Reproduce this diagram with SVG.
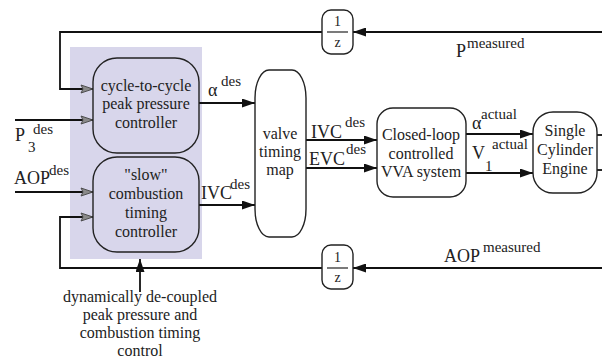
<svg xmlns="http://www.w3.org/2000/svg" width="602" height="361" viewBox="0 0 602 361" font-family="'Liberation Serif', 'DejaVu Serif', serif">
<style>
text{font-family:'Liberation Serif','DejaVu Serif',serif;fill:#222}
.bt{font-size:16px;text-anchor:middle}
.lb{font-size:18px}
.sp{font-size:15px}
.fr{font-size:14px;text-anchor:middle}
.box{fill:none;stroke:#222;stroke-width:1.4}
.ln{fill:none;stroke:#111;stroke-width:1.8}
</style>
<defs>
<marker id="arr" markerUnits="userSpaceOnUse" markerWidth="13" markerHeight="9" refX="13" refY="4.5" orient="auto">
<path d="M0,0 L13,4.5 L0,9 Z" fill="#111"/>
</marker>
<marker id="garr" markerUnits="userSpaceOnUse" markerWidth="14" markerHeight="10" refX="13" refY="5" orient="auto">
<path d="M1,1 L13,5 L1,9 L3,5 Z" fill="#8a8a8a" stroke="#444" stroke-width="0.9"/>
</marker>
</defs>
<rect id="shade" x="70" y="47" width="132" height="212" fill="#d8d6eb"/>
<g id="connectors">
<path class="ln" d="M602,32 L353,32" marker-end="url(#arr)"/>
<path class="ln" d="M322,32 L60,32 L60,89 L93,89" marker-end="url(#garr)"/>
<path class="ln" d="M15,120 L93,120" marker-end="url(#garr)"/>
<path class="ln" d="M15,192 L93,192" marker-end="url(#garr)"/>
<path class="ln" d="M602,268 L353,268" marker-end="url(#arr)"/>
<path class="ln" d="M322,268 L60,268 L60,217 L93,217" marker-end="url(#garr)"/>
<path class="ln" d="M199,103 L255,103" marker-end="url(#arr)"/>
<path class="ln" d="M199,205 L255,205" marker-end="url(#arr)"/>
<path class="ln" d="M306,140 L377,140" marker-end="url(#arr)"/>
<path class="ln" d="M306,168 L377,168" marker-end="url(#arr)"/>
<path class="ln" d="M466,134 L533,134" marker-end="url(#arr)"/>
<path class="ln" d="M466,173 L533,173" marker-end="url(#arr)"/>
<path class="ln" d="M597,135 L602,135"/>
<path class="ln" d="M597,170 L602,170"/>
<path class="ln" d="M140,292 L140,259" marker-end="url(#arr)"/>
</g>
<g id="labels">
<text class="lb" x="15" y="141">P</text><text class="sp" x="28" y="152">3</text><text class="sp" x="33" y="134">des</text>
<text class="lb" x="14" y="184">AOP</text><text class="sp" x="49" y="175">des</text>
<text class="lb" x="208" y="96">α</text><text class="sp" x="221" y="86">des</text>
<text class="lb" x="201" y="199">IVC</text><text class="sp" x="230" y="189">des</text>
<text class="lb" x="311" y="138">IVC</text><text class="sp" x="345" y="127">des</text>
<text class="lb" x="309" y="165">EVC</text><text class="sp" x="346" y="154">des</text>
<text class="lb" x="472" y="129">α</text><text class="sp" x="481" y="119">actual</text>
<text class="lb" x="472" y="159">V</text><text class="sp" x="485" y="171">1</text><text class="sp" x="492" y="149">actual</text>
<text class="lb" x="456" y="57">P</text><text class="sp" x="467" y="48">measured</text>
<text class="lb" x="444" y="262">AOP</text><text class="sp" x="483" y="252">measured</text>
<text class="bt" x="140" y="302">dynamically de-coupled</text>
<text class="bt" x="140" y="320">peak pressure and</text>
<text class="bt" x="140" y="338">combustion timing</text>
<text class="bt" x="140" y="356">control</text>
</g>
<g id="ctrl1">
<rect class="box" x="93" y="58" width="106" height="95" rx="24" ry="24"/>
<text class="bt" x="146" y="91">cycle-to-cycle</text>
<text class="bt" x="146" y="109">peak pressure</text>
<text class="bt" x="146" y="128">controller</text>
</g>
<g id="ctrl2">
<rect class="box" x="93" y="157" width="106" height="95" rx="24" ry="24"/>
<text class="bt" x="146" y="180">"slow"</text>
<text class="bt" x="146" y="199">combustion</text>
<text class="bt" x="146" y="218">timing</text>
<text class="bt" x="146" y="237">controller</text>
</g>
<g id="vmap">
<rect class="box" x="255" y="70" width="51" height="167" rx="14" ry="28"/>
<text class="bt" x="280" y="139">valve</text>
<text class="bt" x="280" y="157">timing</text>
<text class="bt" x="280" y="175">map</text>
</g>
<g id="vva">
<rect class="box" x="377" y="108" width="89" height="89" rx="16" ry="16"/>
<text class="bt" x="421" y="140">Closed-loop</text>
<text class="bt" x="421" y="159">controlled</text>
<text class="bt" x="421" y="177">VVA system</text>
</g>
<g id="engine">
<rect class="box" x="533" y="112" width="64" height="81" rx="20" ry="20"/>
<text class="bt" x="565" y="136">Single</text>
<text class="bt" x="565" y="155">Cylinder</text>
<text class="bt" x="565" y="174">Engine</text>
</g>
<g id="z1">
<rect class="box" x="322" y="10" width="31" height="44" rx="9" ry="9"/>
<line x1="327" y1="32" x2="348" y2="32" stroke="#222" stroke-width="1.2"/>
<text class="fr" x="337.5" y="26">1</text>
<text class="fr" x="337.5" y="47">z</text>
</g>
<g id="z2">
<rect class="box" x="322" y="245" width="31" height="44" rx="9" ry="9"/>
<line x1="327" y1="268" x2="348" y2="268" stroke="#222" stroke-width="1.2"/>
<text class="fr" x="337.5" y="262">1</text>
<text class="fr" x="337.5" y="282">z</text>
</g>
</svg>
